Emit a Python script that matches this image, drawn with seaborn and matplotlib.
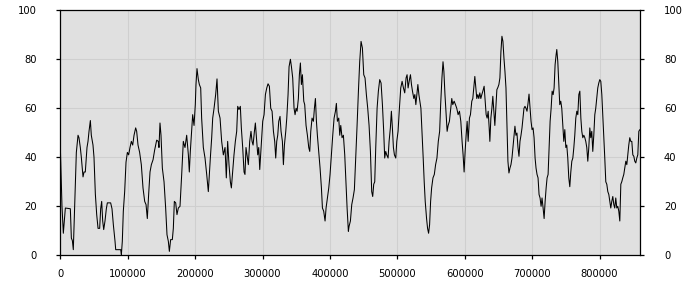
import matplotlib
matplotlib.use("Agg")
import matplotlib.pyplot as plt
import seaborn as sns
import pandas as pd

x_pos = [0,1500,2500,4500,7500,14900,16400,17900,19300,22300,23800,26300,27700,29700,31200,33700,35200,37100,39600,41100,42600,44600,46000,48500,50000,52000,54000,56000,58400,59900,61400,62900,64400,66300,68300,69800,74700,76700,78700,81200,82200,89600,90600,92000,93500,95500,97500,99500,101400,103400,105400,107400,109400,111800,113300,115300,117700,120200,122700,125200,127200,129100,131100,133100,135100,137600,
140000,143000,145400,146400,147900,149400,151400,153900,156300,158300,160300,161800,163700,166200,167700,169200,171200,173100,175100,177600,180100,182500,185000,187500,190000,191400,192900,194900,196400,198400,200300,201300,202800,204800,206300,208300,209700,212200,214700,217200,219600,221100,222600,224600,226100,228100,230500,232500,234500,237000,239400,241900,244400,246300,248300,250300,252300,253800,255700,257700,259700,261700,263200,265100,267100,268600,270600,272600,274000,275500,277000,279000,281000,282900,
284500,286000,288000,289400,291000,292900,294400,295900,297900,300300,302300,304300,306300,308200,310200,312200,314200,316200,318100,319600,321100,322600,324100,326000,327500,329500,331000,332500,334500,336000,337900,339400,341400,342900,344800,346800,348300,349800,351300,353200,354700,356200,357700,359200,361200,362600,364600,366600,368600,370100,371600,373500,375500,377000,378500,380000,381400,383400,385400,387400,388900,390800,392800,394300,396300,398300,400200,402200,404200,406200,408200,409600,411100,413100,414600,416100,418000,420000,422000,424000,425500,427400,
428400,430400,432400,434300,436300,438300,440300,442300,444200,446200,448200,450200,452100,454100,456100,458100,460100,462000,463500,465000,466500,468000,470000,471900,473900,475900,477900,479800,481300,482800,484300,486300,487800,489700,491200,492700,494200,495700,497700,499200,501100,503100,505100,507100,509100,511000,513000,514500,516000,518000,519500,521000,522500,524500,526000,527500,529000,530500,532000,533500,535000,536900,538400,539900,541400,543400,544900,546400,547900,549400,550900,552900,554900,556800,558800,560800,562800,564300,566200,567800,569100,570700,572200,
573900,575400,577300,579300,580800,582300,584300,586300,588200,590200,592200,594200,596100,597600,599100,600600,602100,603600,605100,607000,608500,610500,612000,613500,615000,616500,617900,619400,620900,622400,623900,625400,626900,628800,630300,631800,633300,634800,636300,637300,638800,640300,641700,643200,644700,646200,647700,649200,650700,652200,653700,655200,656700,658200,659700,661200,662600,664100,665600,667100,668600,670100,671600,673100,674500,676000,677500,679000,680500,682000,683500,685000,686500,687900,689400,690900,692400,693900,695400,696900,698400,699900,701400,702900,704400,705800,707300,708800,710300,711800,713300,714700,716300,
717800,719300,720800,722200,723700,725200,726700,728200,729700,731200,732600,734100,735600,736600,738100,739600,741000,742500,744000,745500,747000,748500,750000,751400,752900,754400,755900,757400,758900,760400,761900,763300,764800,766300,767800,769300,770800,772300,773700,775200,776700,778200,779600,781100,782600,784100,785600,787000,788500,790000,791500,793000,794400,795900,797400,798900,800400,801900,803400,804800,806300,807800,809300,810800,812300,813800,815200,816700,818200,819700,821200,822600,824100,825600,827100,828600,830100,831600,833000,834500,836000,837500,839000,840500,842000,843400,844900,846400,847900,849400,850900,852300,853800,855300,856800,858300,859800]

values = [44.5,30,20,9,19.3,19,7,6,2.3,29,42,49,48,44,40,32,34,34,44,46.5,50.6,55,49,45,40,25,16.6,11,11,19,22,14,10.5,14,19,21.4,21.4,19,12.5,5.7,2.3,2.3,0.3,5.7,18,26,38,42,41,44,46.5,45,49,52,50.6,45,42,37,27.5,22,20.7,15,25,34,37,39,
43,47,46.5,44,54,49,35.6,30,19.3,8.4,5.7,1.6,6.4,6.4,11,22,21.4,16.6,19.3,20,33,46.5,44,49,41,34,42.4,50.6,57.4,53,61.5,69.7,76.2,71.7,69.7,68.3,56,44,39.7,33,26,33,39.7,48,56,60,65.6,72,58.8,56,46.5,41,44,31.6,46.5,37,30,27.5,34,41,46.5,50.6,60.8,59.5,60.8,52,44,34,33,44,41,37,46.5,50.6,
46.5,45,50.6,54,48,41,44,35,44,54.7,57.4,65.6,68.3,70,69,60,58.8,50.6,46.5,39.7,46.5,49,54.7,56.7,50.6,46.5,37,45,50.6,56,65.6,77,80,77,72.4,60,57.4,60,58.8,64,73.7,78.5,69.7,73.7,62.9,61.5,53,49,44,42.4,50.6,56,54.7,60,64,54.7,49,42.4,35.6,27.5,19.3,18,14,19.3,23.4,27.5,33,41,49,56,58.8,62,54.7,56,49,53,48,49,41,29,19.3,9.8,
11.8,14,20.7,23.4,26.8,39.7,53,67,79,87.3,84.6,73.7,72.4,65.6,60,53,42.4,26,24,29,30,44,60,67,71.7,70.3,61.5,50.6,39.7,42.4,41,39.7,46.5,52,58.8,52,44,41,39.7,46.5,50.6,60,68.3,71,68.3,66.3,72.4,73.7,68.3,71.7,73.7,69.7,67,64,65.6,61.5,65.6,69.7,65.6,62.9,60,49,39.7,30,22,15,11,9,12.5,22,27.5,31.6,33,37,39.7,46.5,50.6,61.5,72.4,79,75,65.6,58.8,
50.6,53,54.7,60,64,61.5,62.9,61.5,60,57.4,58.8,54.7,46.5,41,34,42.4,49,54.7,46.5,56,57.4,62.9,64,68.3,73,68.3,64,65.6,64,66.3,64,65.6,67,69,62.9,57.4,56,58.8,52,46.5,56,60,64.9,58.8,53,60,67.6,68.5,69.7,72.4,83,89.4,87.3,80.5,75,68.3,53,38.4,33.6,35.6,37,39.7,44,48,52.7,49,49.9,44,40.4,46.5,49,52,56,60,60.8,60,58.8,62,65.8,60,54.7,51.3,52,48,39.7,35.6,33,31.6,24.8,23.4,20,23.4,19.3,
15,22,27.5,31.6,33,44,54.7,60,67,65.6,68.3,77.8,81.9,84,79,69.7,61.5,62.9,60,53,46.5,51.3,44,45,39.7,31.6,28,34,38.4,39.7,44,49,56,58.8,57.4,65.6,67,56,50.6,48,49,48,46.5,44,38.4,44,52,48,50.6,42.4,49,57.4,60,64,68.3,70.3,71.7,71,65.6,57.4,49,39.7,30,29,26,24.8,22,19.3,22,24,20.7,19.3,23.4,19.3,20,18,14,29,30,31.6,33,35.6,38.4,37,41,45,48,46.5,46.5,41,40.4,38.4,37.7,39.7,41,50.6,51.3]

x_ticks = [0, 100000, 200000, 300000, 400000, 500000, 600000, 700000, 800000]
y_ticks = [0, 20, 40, 60, 80, 100]

df = pd.DataFrame({"x": x_pos, "y": values})

sns.set_theme(style="white")
plt.rcParams['font.family'] = ['DejaVu Sans']

fig = plt.figure(figsize=(7, 3), dpi=100)
ax = fig.add_axes([60.3/700, 44.7/300, 580/700, 245/300])
ax.set_facecolor("#e0e0e0")

sns.lineplot(data=df, x="x", y="y", ax=ax, color="black", linewidth=0.75,
             estimator=None, sort=False, antialiased=True)

ax.set_xlim(0, 860500)
ax.set_ylim(0, 100)
ax.set_xticks(x_ticks)
ax.set_xticklabels([str(v) for v in x_ticks])
ax.set_yticks(y_ticks)
ax.set_yticklabels([str(v) for v in y_ticks])
ax.set_xlabel("")
ax.set_ylabel("")

ax.grid(True, color="#cfcfcf", linewidth=0.75)
ax.set_axisbelow(True)
for s in ax.spines.values():
    s.set_visible(True)
    s.set_color("black")
    s.set_linewidth(0.9)

ax.tick_params(axis="y", left=True, right=True, labelleft=True, labelright=True,
               length=3, width=0.9, color="black", pad=14, labelsize=7.2, labelcolor="black")
ax.tick_params(axis="x", bottom=True, length=3, width=0.9, color="black", pad=7,
               labelsize=7.2, labelcolor="black")

fig.savefig("out.png", dpi=100)
